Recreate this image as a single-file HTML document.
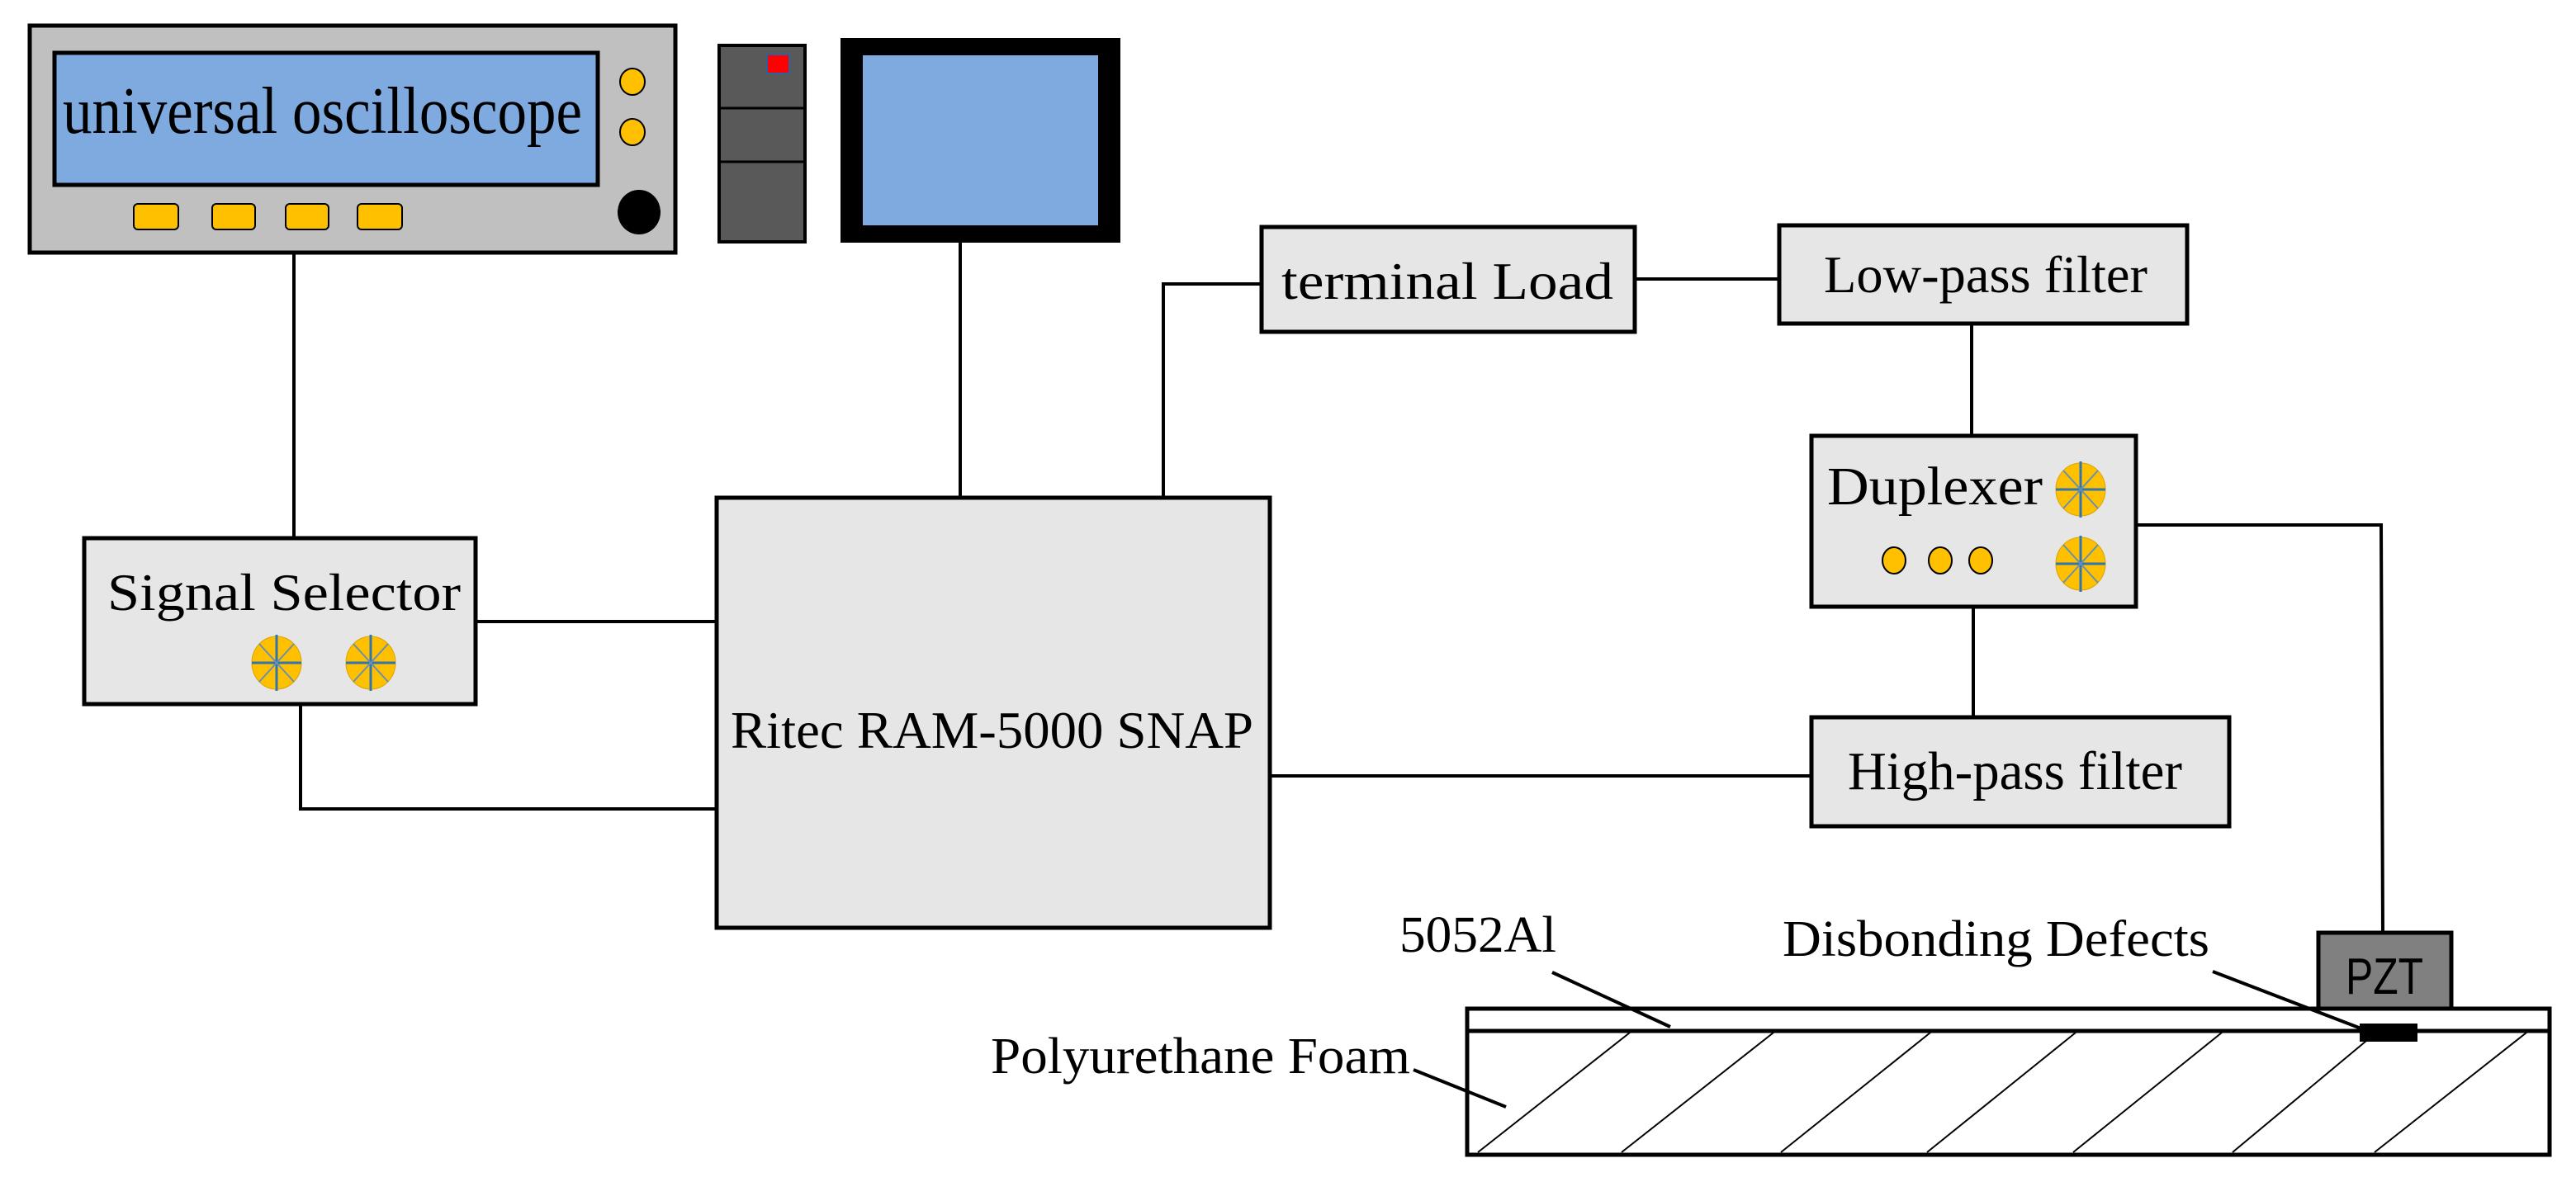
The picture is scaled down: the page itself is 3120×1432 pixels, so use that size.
<!DOCTYPE html>
<html><head><meta charset="utf-8"><style>
html,body{margin:0;padding:0;background:#fff;}
svg{display:block;}
text{font-family:"Liberation Serif",serif;fill:#000;}
</style></head><body>
<svg width="3120" height="1432" viewBox="0 0 3120 1432" xmlns="http://www.w3.org/2000/svg">
<defs>
<g id="wheel">
<ellipse cx="0" cy="0" rx="30" ry="32" fill="#ffc000" stroke="#d9a300" stroke-width="1"/>
<g stroke="#2e75b6" stroke-width="3">
<line x1="-30" y1="0" x2="30" y2="0"/><line x1="0" y1="-34" x2="0" y2="34"/>
</g>
<g stroke="#6a8fb0" stroke-width="2">
<line x1="-21" y1="-23" x2="21" y2="23"/><line x1="-21" y1="23" x2="21" y2="-23"/>
</g>
</g>
</defs>

<g stroke="#000" stroke-width="4" fill="none">
<line x1="356" y1="305" x2="356" y2="652"/>
<line x1="1163" y1="294" x2="1163" y2="603"/>
<line x1="576" y1="753" x2="868" y2="753"/>
<polyline points="364,853 364,980 868,980"/>
<polyline points="1409,603 1409,344 1528,344"/>
<line x1="1980" y1="338" x2="2155" y2="338"/>
<line x1="2388" y1="392" x2="2388" y2="528"/>
<line x1="2390" y1="735" x2="2390" y2="869"/>
<line x1="1538" y1="940" x2="2194" y2="940"/>
<polyline points="2587,636 2884,636 2886,1130"/>
</g>

<rect x="36" y="31" width="782" height="275" fill="#c0c0c0" stroke="#000" stroke-width="5"/>
<rect x="66" y="64" width="658" height="160" fill="#7faadf" stroke="#000" stroke-width="5"/>
<text x="76" y="161" font-size="80" textLength="629" lengthAdjust="spacingAndGlyphs">universal oscilloscope</text>
<ellipse cx="766" cy="99" rx="15" ry="16" fill="#ffc000" stroke="#000" stroke-width="2"/>
<ellipse cx="766" cy="160" rx="15" ry="16" fill="#ffc000" stroke="#000" stroke-width="2"/>
<ellipse cx="774" cy="257" rx="26" ry="27" fill="#000"/>
<g fill="#ffc000" stroke="#000" stroke-width="2">
<rect x="162" y="247" width="54" height="31" rx="5"/>
<rect x="257" y="247" width="52" height="31" rx="5"/>
<rect x="346" y="247" width="52" height="31" rx="5"/>
<rect x="433" y="247" width="54" height="31" rx="5"/>
</g>

<rect x="871" y="55" width="104" height="238" fill="#595959" stroke="#000" stroke-width="4"/>
<line x1="871" y1="131" x2="975" y2="131" stroke="#000" stroke-width="3"/>
<line x1="871" y1="196" x2="975" y2="196" stroke="#000" stroke-width="3"/>
<rect x="929" y="66" width="27" height="23" fill="#ff0000" stroke="#2e5fa0" stroke-width="2"/>

<rect x="1018" y="46" width="339" height="248" fill="#000"/>
<rect x="1045" y="67" width="285" height="206" fill="#7faadf"/>

<rect x="102" y="652" width="474" height="201" fill="#e6e6e6" stroke="#000" stroke-width="5"/>
<text x="130" y="739" font-size="64" textLength="428" lengthAdjust="spacingAndGlyphs">Signal Selector</text>
<use href="#wheel" x="335" y="803"/>
<use href="#wheel" x="449" y="803"/>

<rect x="868" y="603" width="670" height="521" fill="#e6e6e6" stroke="#000" stroke-width="5"/>
<text x="885" y="906" font-size="64" textLength="633" lengthAdjust="spacingAndGlyphs">Ritec RAM-5000 SNAP</text>

<rect x="1528" y="275" width="452" height="127" fill="#e6e6e6" stroke="#000" stroke-width="5"/>
<text x="1552" y="362" font-size="64" textLength="402" lengthAdjust="spacingAndGlyphs">terminal Load</text>

<rect x="2155" y="273" width="494" height="119" fill="#e6e6e6" stroke="#000" stroke-width="5"/>
<text x="2209" y="354" font-size="64" textLength="392" lengthAdjust="spacingAndGlyphs">Low-pass filter</text>

<rect x="2194" y="528" width="393" height="207" fill="#e6e6e6" stroke="#000" stroke-width="5"/>
<text x="2213" y="611" font-size="66" textLength="261" lengthAdjust="spacingAndGlyphs">Duplexer</text>
<use href="#wheel" x="2520" y="593"/>
<use href="#wheel" x="2520" y="683"/>
<g fill="#ffc000" stroke="#000" stroke-width="2">
<ellipse cx="2294" cy="679" rx="14" ry="16"/>
<ellipse cx="2350" cy="679" rx="14" ry="16"/>
<ellipse cx="2399" cy="679" rx="14" ry="16"/>
</g>

<rect x="2194" y="869" width="506" height="132" fill="#e6e6e6" stroke="#000" stroke-width="5"/>
<text x="2238" y="956" font-size="66" textLength="405" lengthAdjust="spacingAndGlyphs">High-pass filter</text>

<rect x="1777" y="1222" width="1311" height="177" fill="#fff" stroke="#000" stroke-width="5"/>
<line x1="1777" y1="1249" x2="3088" y2="1249" stroke="#000" stroke-width="5"/>
<g stroke="#000" stroke-width="2">
<line x1="1790" y1="1396" x2="1974" y2="1251"/>
<line x1="1964" y1="1396" x2="2148" y2="1251"/>
<line x1="2157" y1="1396" x2="2338" y2="1251"/>
<line x1="2334" y1="1396" x2="2514" y2="1251"/>
<line x1="2511" y1="1396" x2="2691" y2="1251"/>
<line x1="2704" y1="1396" x2="2878" y2="1251"/>
<line x1="2876" y1="1396" x2="3060" y2="1251"/>
</g>
<rect x="2858" y="1240" width="70" height="22" fill="#000"/>

<rect x="2808" y="1130" width="161" height="92" fill="#808080" stroke="#000" stroke-width="5"/>
<text x="2888" y="1204" font-size="62" text-anchor="middle" style="font-family:'Liberation Sans',sans-serif" textLength="94" lengthAdjust="spacingAndGlyphs">PZT</text>

<text x="1695" y="1153" font-size="62" textLength="190" lengthAdjust="spacingAndGlyphs">5052Al</text>
<text x="2159" y="1158" font-size="62" textLength="517" lengthAdjust="spacingAndGlyphs">Disbonding Defects</text>
<text x="1200" y="1300" font-size="62" textLength="508" lengthAdjust="spacingAndGlyphs">Polyurethane Foam</text>
<g stroke="#000" stroke-width="4">
<line x1="1880" y1="1178" x2="2023" y2="1244"/>
<line x1="2680" y1="1177" x2="2870" y2="1250"/>
<line x1="1712" y1="1296" x2="1824" y2="1341"/>
</g>
</svg>
</body></html>
